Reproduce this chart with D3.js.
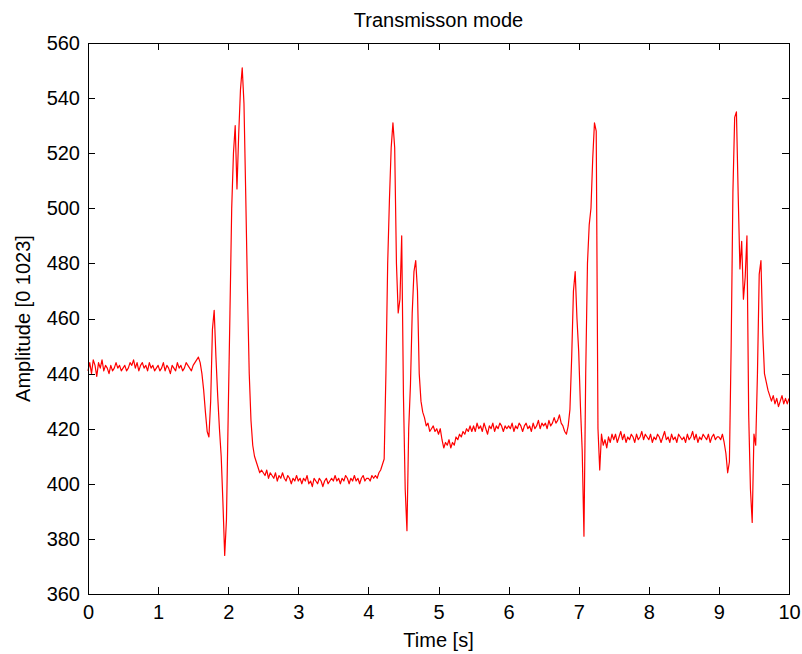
<!DOCTYPE html>
<html>
<head>
<meta charset="utf-8">
<title>Transmisson mode</title>
<script src="https://cdn.jsdelivr.net/npm/d3@7"></script>
<style>
    html, body {
        margin: 0;
        padding: 0;
        overflow: hidden;
        background: #ffffff;
    }

    svg {
        display: block;
    }

    .axesLabel {
        font-family: "Liberation Sans", Arial, sans-serif;
        font-size: 20px;
        fill: #000000;
    }

    .domain,
    .tick line {
        stroke: #000000;
        shape-rendering: crispEdges;
    }
</style>
</head>
<body>
<script>
// DATA

// sensor samples, 40 per second (t = 0 ... 10 s)
const sampleRate = 40;
const amplitude = [
    441, 444, 440, 445, 443, 439, 444, 442, 445, 441, 443, 442, 440, 443, 441, 442, 444, 442, 443, 441,
    442, 443, 441, 442, 444, 443, 445, 442, 444, 441, 443, 444, 442, 443, 441, 444, 442, 443, 441, 442,
    443, 441, 442, 444, 441, 443, 442, 440, 443, 442, 441, 444, 442, 443, 441, 442, 444, 443, 442, 441,
    443, 444, 445, 446, 444, 440, 434, 426, 419, 417, 430, 456, 463, 446, 432, 420, 410, 393, 374, 387,
    425, 462, 500, 520, 530, 507, 527, 543, 551, 538, 505, 470, 440, 423, 414, 410, 408, 406, 404, 405,
    404, 403, 405, 402, 404, 403, 402, 404, 401, 403, 402, 404, 402, 401, 403, 402, 400, 402, 401, 403,
    401, 402, 400, 402, 401, 403, 400, 401, 399, 402, 401, 400, 402, 401, 399, 401, 402, 400, 401, 402,
    401, 403, 401, 402, 400, 402, 401, 403, 402, 400, 402, 401, 403, 401, 402, 400, 402, 403, 401, 402,
    402, 401, 403, 402, 403, 402, 404, 405, 407, 409, 440, 480, 503, 522, 531, 522, 480, 462, 467, 490,
    432, 398, 383, 420, 436, 462, 477, 481, 470, 440, 430, 426, 424, 421, 422, 419, 420, 421, 419, 420,
    418, 420, 416, 413, 415, 414, 416, 413, 415, 414, 417, 416, 418, 417, 419, 418, 420, 419, 421, 419,
    421, 419, 422, 420, 421, 419, 422, 420, 418, 421, 420, 422, 419, 421, 420, 422, 421, 419, 421, 420,
    421, 420, 422, 419, 421, 420, 422, 421, 419, 421, 422, 420, 421, 419, 422, 420, 421, 423, 420, 422,
    421, 422, 420, 423, 421, 422, 424, 422, 423, 425, 422, 421, 419, 418, 421, 427, 446, 470, 477, 460,
    448, 428, 412, 381, 440, 480, 494, 500, 518, 531, 528, 420, 405, 418, 414, 416, 413, 417, 415, 418,
    416, 418, 415, 417, 419, 416, 418, 415, 417, 416, 418, 417, 415, 418, 416, 417, 419, 416, 418, 417,
    416, 418, 415, 417, 416, 418, 417, 415, 417, 419, 416, 417, 415, 418, 416, 417, 415, 418, 417, 416,
    417, 415, 418, 416, 417, 419, 416, 418, 415, 417, 416, 418, 417, 416, 418, 415, 417, 418, 416, 417,
    417, 416, 418, 415, 411, 404, 408, 450, 506, 533, 535, 505, 478, 488, 467, 475, 490, 425, 398, 386,
    418, 414, 440, 476, 481, 455, 440, 437, 434, 432, 430, 432, 429, 431, 428, 430, 432, 429, 431, 429,
    431
];

const xTicks = [0, 1, 2, 3, 4, 5, 6, 7, 8, 9, 10];
const yTicks = [360, 380, 400, 420, 440, 460, 480, 500, 520, 540, 560];

const titleText = "Transmisson mode";
const xLabelText = "Time [s]";
const yLabelText = "Amplitude [0 1023]";


// CONSTANTS

const width = 802;
const height = 654;
const margin = { top: 43, right: 13, bottom: 60, left: 88 };
const innerWidth = width - margin.left - margin.right;
const innerHeight = height - margin.top - margin.bottom;
const tickLength = 7;
const fontFamily = '"Liberation Sans", Arial, sans-serif';
const fontSize = 20;


// D3 LOGIC

const svg = d3.select('body')
    .append('svg')
    .attr('width', width)
    .attr('height', height);

const plot = svg.append('g')
    .attr('transform', `translate(${margin.left},${margin.top})`);

// Scale x (time)
const xAxis = d3.scaleLinear()
    .domain([0, 10])
    .range([0, innerWidth]);

// Scale y (amplitude)
const yAxis = d3.scaleLinear()
    .domain([360, 560])
    .range([innerHeight, 0]);

// Signal trace
const line = d3.line()
    .x((d, i) => xAxis(i / sampleRate))
    .y(d => yAxis(d));

plot.append('path')
    .datum(amplitude)
    .attr('fill', 'none')
    .attr('stroke', '#ff0000')
    .attr('stroke-width', 1.2)
    .attr('stroke-linejoin', 'round')
    .attr('d', line);

// Bottom axis, ticks pointing inwards
plot.append('g')
    .attr('transform', `translate(0,${innerHeight})`)
    .call(d3.axisBottom(xAxis).tickValues(xTicks).tickSizeInner(-tickLength).tickSizeOuter(0).tickPadding(11))
    .attr('font-family', fontFamily)
    .attr('font-size', fontSize);

// Left axis
plot.append('g')
    .call(d3.axisLeft(yAxis).tickValues(yTicks).tickSizeInner(-tickLength).tickSizeOuter(0).tickPadding(8))
    .attr('font-family', fontFamily)
    .attr('font-size', fontSize);

// Top and right axes (box), ticks only - drop the empty labels
plot.append('g')
    .call(d3.axisTop(xAxis).tickValues(xTicks).tickSizeInner(-tickLength).tickSizeOuter(0))
    .call(g => g.selectAll('text').remove());

plot.append('g')
    .attr('transform', `translate(${innerWidth},0)`)
    .call(d3.axisRight(yAxis).tickValues(yTicks).tickSizeInner(-tickLength).tickSizeOuter(0))
    .call(g => g.selectAll('text').remove());

// Title
svg.append('text')
    .attr('class', 'axesLabel')
    .attr('text-anchor', 'middle')
    .attr('x', margin.left + innerWidth / 2)
    .attr('y', 27)
    .text(titleText);

// Label x
svg.append('text')
    .attr('class', 'axesLabel')
    .attr('text-anchor', 'middle')
    .attr('x', margin.left + innerWidth / 2)
    .attr('y', 647)
    .text(xLabelText);

// Label y
svg.append('text')
    .attr('class', 'axesLabel')
    .attr('text-anchor', 'middle')
    .attr('transform', `translate(30,${margin.top + innerHeight / 2}) rotate(-90)`)
    .text(yLabelText);
</script>
</body>
</html>
